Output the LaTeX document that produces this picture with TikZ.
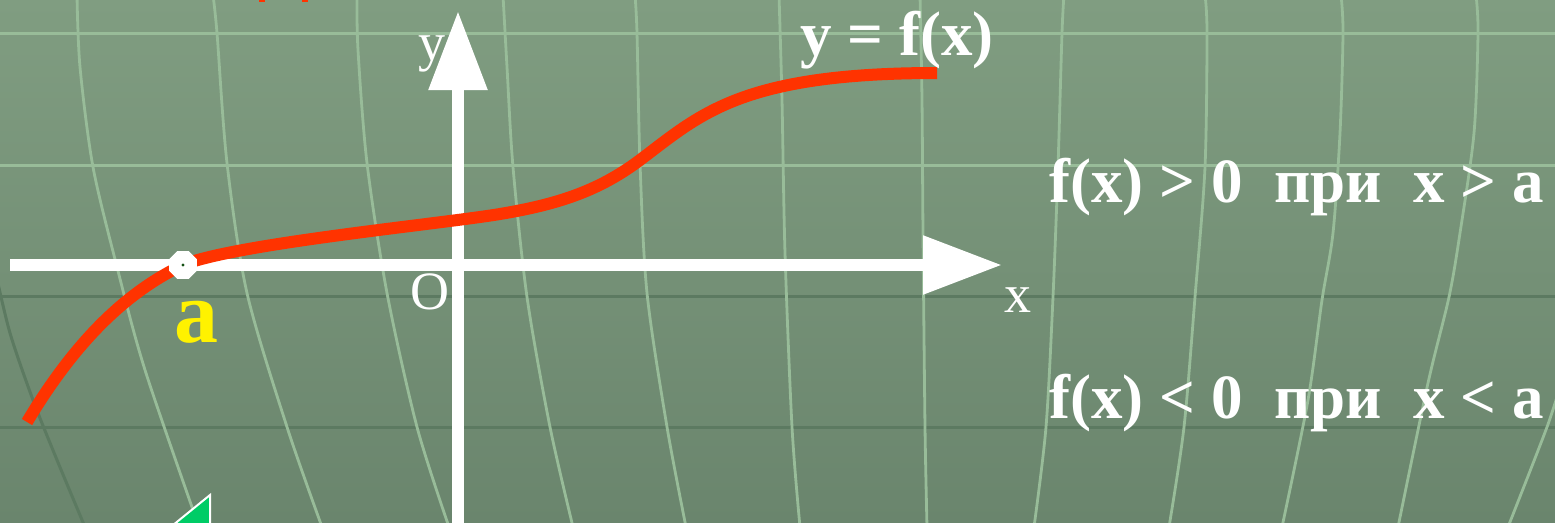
\documentclass[tikz,border=0pt]{standalone}
\usepackage{fontspec}
\setmainfont{Liberation Serif}
\usetikzlibrary{arrows.meta,positioning,shapes.geometric}

\definecolor{bgtop}{RGB}{128,157,129}
\definecolor{bgbot}{RGB}{106,133,109}
\definecolor{gridlight}{RGB}{152,188,153}
\definecolor{griddark}{RGB}{92,122,97}
\definecolor{curvered}{RGB}{255,51,0}
\definecolor{btngreen}{RGB}{0,204,102}
\definecolor{dotgreen}{RGB}{20,80,20}

\begin{document}
\begin{tikzpicture}[
			x=1pt,y=-1pt,
			>=Latex,
			lightline/.style={
				draw=gridlight,
				line width=3pt
			},
			darkline/.style={
				draw=griddark,
				line width=3pt
			},
			bendline/.style={
				draw=gridlight,
				line width=2.8pt,
				smooth,
				tension=0.5
			},
			axis/.style={
				draw=white,
				line width=12pt,
				-{Triangle[width=56pt,length=79pt]}
			},
			graph/.style={
				draw=curvered,
				line width=12pt
			},
			pointmark/.style={
				regular polygon,
				regular polygon sides=8,
				fill=white,
				inner sep=0pt,
				minimum size=30pt
			},
			axislabel/.style={
				text=white,
				anchor=base,
				inner sep=0pt,
				font=\fontsize{54}{60}\selectfont
			},
			cond/.style={
				text=white,
				anchor=base west,
				inner sep=0pt,
				font=\fontsize{63}{70}\selectfont\bfseries
			}
			]
			
			% Background
			\useasboundingbox (0,0) rectangle (1555,522);
			\shade[top color=bgtop,bottom color=bgbot] (0,0) rectangle (1555,522);
			
			% Grid
			\foreach \gy in {33,165} {
				\draw[lightline] (0,\gy) -- (1555,\gy);
			}
			\foreach \gy in {296,427} {
				\draw[darkline] (0,\gy) -- (1555,\gy);
			}
			\draw[bendline] plot coordinates {(77,-5) (80,67) (93,167) (117,267) (145,370) (199,527)};
			\draw[bendline] plot coordinates {(213,-5) (217,33) (227,163) (247,293) (287,427) (322,527)};
			\draw[bendline] plot coordinates {(357,-5) (358,50) (367,163) (387,293) (417,427) (449,527)};
			\draw[bendline] plot coordinates {(503,-5) (507,67) (513,167) (527,297) (550,427) (573,527)};
			\draw[bendline] plot coordinates {(635,-5) (637,33) (640,163) (647,293) (667,427) (686,527)};
			\draw[bendline] plot coordinates {(779,-5) (782,100) (785,253) (792,427) (800,527)};
			\draw[bendline] plot coordinates {(920,-5) (922,100) (923,233) (925,427) (927,527)};
			\draw[bendline] plot coordinates {(1064,-5) (1062,33) (1058,167) (1053,297) (1046,427) (1034,527)};
			\draw[bendline] plot coordinates {(1205,-5) (1207,33) (1205,167) (1195,297) (1184,427) (1169,527)};
			\draw[bendline] plot coordinates {(1341,-5) (1343,33) (1340,133) (1333,233) (1322,300) (1308,400) (1282,527)};
			\draw[bendline] plot coordinates {(1476,-5) (1478,33) (1474,133) (1460,233) (1449,297) (1428,383) (1398,527)};
			\draw[bendline] plot coordinates {(1562,380) (1547,427) (1508,527)};
			\draw[darkline] plot[smooth,tension=0.5] coordinates {(-5,270) (10,333) (33,400) (57,460) (85,527)};
			
			% Cut-off marks at the top and the button
			\fill[curvered] (259,0) rectangle (265,1.5);
			\fill[curvered] (302,0) rectangle (308,1.5);
			\filldraw[fill=btngreen,draw=white,line width=2pt] (210,495) -- (210,530) -- (167,530) -- cycle;
			
			% Axes
			\coordinate (xstart) at (10,265);
			\coordinate (xtip) at (1002,265);
			\coordinate (ystart) at (458,530);
			\coordinate (ytip) at (458,11);
			\draw[axis] (xstart) -- (xtip);
			\draw[axis] (ystart) -- (ytip);
			
			% Graph
			\coordinate (gstart) at (27,422);
			\coordinate (zero) at (183,265);
			\coordinate (gmid) at (500,214);
			\coordinate (gbend) at (640,160);
			\coordinate (gend) at (937,73);
			\draw[graph] (gstart) .. controls (70,350) and (120,295) .. (zero)
				.. controls (233,244) and (440,224) .. (gmid)
				.. controls (560,204) and (600,190) .. (gbend)
				.. controls (700,115) and (740,73) .. (gend);
			
			% Zero of the function
			\node[pointmark] (pa) at (zero) {};
			\fill[dotgreen] (pa.center) circle (1.6);
			\node[text=yellow,anchor=base,inner sep=0pt,font=\fontsize{88}{96}\selectfont\bfseries] (la) at (196,342) {a};
			
			% Labels
			\node[axislabel] (ly) at (432,60) {y};
			\node[axislabel] (lo) at (430,309) {O};
			\node[axislabel] (lx) at (1018,312) {x};
			\node[cond] (fx) at (800,55) {y = f(x)};
			
			% Conditions
			\node[cond] (pos) at (1049,202) {f(x) > 0\ \ при\ \ x > a};
			\node[cond] (neg) at (1049,418) {f(x) < 0\ \ при\ \ x < a};
			
		\end{tikzpicture}
\end{document}
